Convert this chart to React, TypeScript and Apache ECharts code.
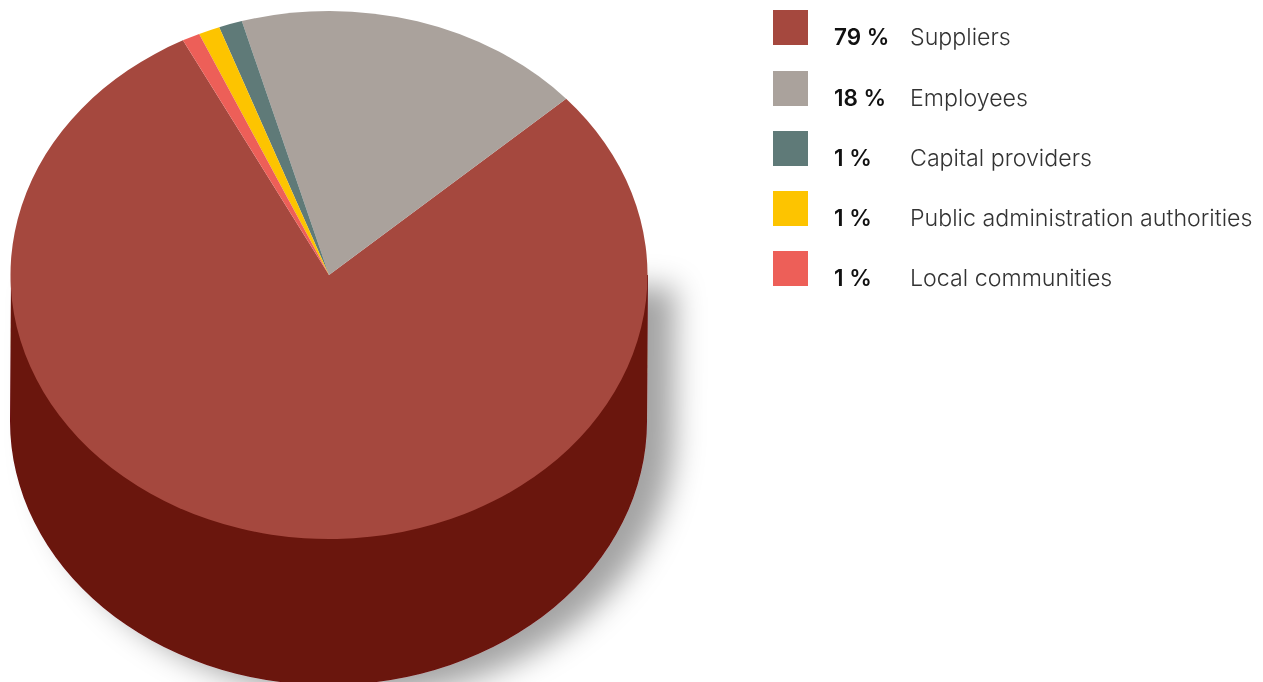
import React, { useEffect, useRef } from "react";
import * as echarts from "echarts";

const names = ["Suppliers", "Employees", "Capital providers", "Public administration authorities", "Local communities"];
const shareLabels = ["79 %", "18 %", "1 %", "1 %", "1 %"];
const sliceValues = [79.05, 17.78, 1.19, 1.08, 0.9];
const colors = ["#a5483e", "#aaa29c", "#5f7a78", "#fdc400", "#ed5f58"];
const wallColor = "#6b120e";

const CX = 329.5, CY = 275, RX = 318.5, RY = 264, WALL_CY = 421;
const START_DEG = 332.7;
const FONT = "Inter";
const legendY = [10, 71, 131, 191, 251];

export default function App() {
  const ref = useRef<HTMLDivElement>(null);
  useEffect(() => {
    document.body.style.margin = "0";
    const chart = echarts.init(ref.current!, null, { renderer: "svg" });
    const total = sliceValues.reduce((a, b) => a + b, 0);
    const graphic: any[] = [];
    names.forEach((n, i) => {
      graphic.push({ type: "rect", shape: { x: 773, y: legendY[i], width: 35, height: 35 }, style: { fill: colors[i] } });
      graphic.push({ type: "text", x: 834, y: legendY[i] + 26.5, style: { text: shareLabels[i], fill: "#111", font: `600 22.5px ${FONT}`, verticalAlign: "middle" } });
      graphic.push({ type: "text", x: 910, y: legendY[i] + 26.5, style: { text: n, fill: "#333", font: `300 23.2px ${FONT}`, verticalAlign: "middle" } });
    });
    chart.setOption({
      animation: false,
      graphic,
      series: [
        {
          type: "custom",
          coordinateSystem: "none",
          silent: true,
          z: 1,
          data: [1],
          renderItem: () => ({
            type: "path",
            shape: {
              pathData: `M ${CX - RX} ${CY} L ${CX - RX - 1} ${WALL_CY} A ${RX} ${RY} 0 0 0 ${CX + RX - 1} ${WALL_CY} L ${CX + RX} ${CY} Z`,
              layout: "cover",
              x: CX - RX - 1,
              y: CY,
              width: 2 * RX + 1,
              height: WALL_CY + RY - CY,
            },
            style: { fill: wallColor, shadowBlur: 30, shadowColor: "rgba(0,0,0,0.36)", shadowOffsetX: 27, shadowOffsetY: 12 },
          }),
        },
        {
          type: "custom",
          coordinateSystem: "none",
          silent: true,
          z: 2,
          data: sliceValues,
          renderItem: (p: any) => {
            const before = sliceValues.slice(0, p.dataIndex).reduce((a, b) => a + b, 0);
            const a0 = START_DEG - (before / total) * 360;
            const a1 = a0 - (sliceValues[p.dataIndex] / total) * 360;
            const rad = (d: number) => ((d - 90) * Math.PI) / 180;
            return {
              type: "sector",
              x: CX - 0.5,
              y: CY,
              scaleY: RY / RX,
              shape: { cx: 0, cy: 0, r0: 0, r: RX, startAngle: rad(a1), endAngle: rad(a0), clockwise: true },
              style: { fill: colors[p.dataIndex] },
            };
          },
        },
      ],
    });
    return () => chart.dispose();
  }, []);
  return <div ref={ref} style={{ position: "fixed", left: 0, top: 0, width: 1263, height: 682 }} />;
}
